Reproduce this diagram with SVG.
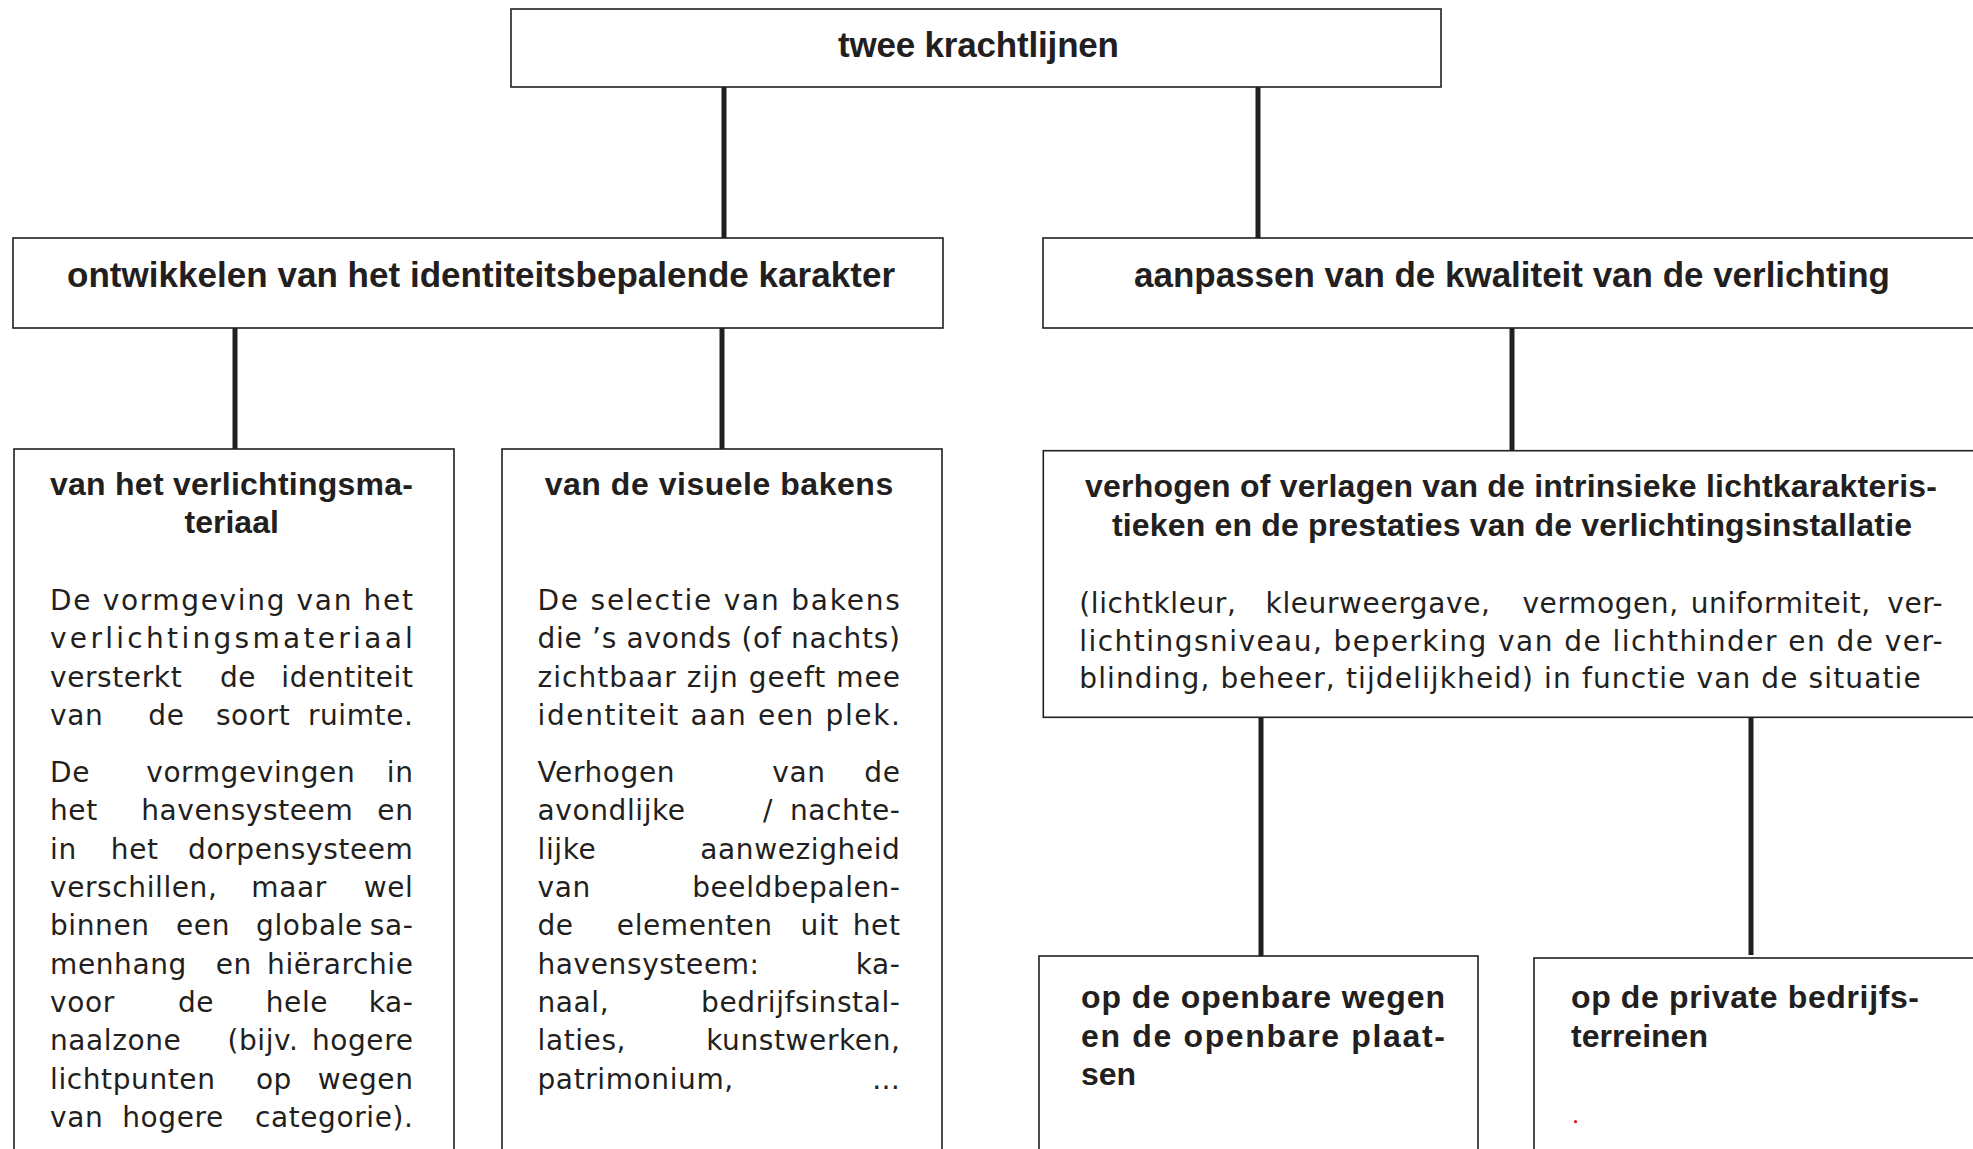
<svg xmlns="http://www.w3.org/2000/svg" width="1973" height="1149" viewBox="0 0 1973 1149">
<style>
.box{fill:#fff;stroke:#231f20;stroke-width:1.6}
.conn{stroke:#231f20;stroke-width:5;fill:none}
.h{font-family:"Liberation Sans",Arial,sans-serif;font-weight:bold;fill:#231f20}
.h1{font-size:35px}
.h2{font-size:32px}
.b{font-family:"DejaVu Sans","Liberation Sans",sans-serif;font-size:28px;letter-spacing:0.6px;fill:#231f20}
.m{text-anchor:middle}
.e{text-anchor:end}
</style>
<rect width="1973" height="1149" fill="#fff"/>
<g id="connectors">
<line class="conn" x1="724" y1="87" x2="724" y2="238"/>
<line class="conn" x1="1258" y1="87" x2="1258" y2="238"/>
<line class="conn" x1="235" y1="328" x2="235" y2="449"/>
<line class="conn" x1="722" y1="328" x2="722" y2="449"/>
<line class="conn" x1="1512" y1="328" x2="1512" y2="451"/>
<line class="conn" x1="1261" y1="717" x2="1261" y2="956"/>
<line class="conn" x1="1751" y1="717" x2="1751" y2="955"/>
</g>
<g id="root">
<rect class="box" x="511" y="9" width="930" height="78"/>
<text class="h h1" x="838" y="57" textLength="281" lengthAdjust="spacing">twee krachtlijnen</text>
</g>
<g id="identiteit">
<rect class="box" x="13" y="238" width="930" height="90"/>
<text class="h h1" x="67" y="287" textLength="828" lengthAdjust="spacing">ontwikkelen van het identiteitsbepalende karakter</text>
</g>
<g id="kwaliteit">
<rect class="box" x="1043" y="238" width="960" height="90"/>
<text class="h h1" x="1134" y="287" textLength="756" lengthAdjust="spacing">aanpassen van de kwaliteit van de verlichting</text>
</g>
<g id="materiaal">
<rect class="box" x="14" y="449" width="440" height="720"/>
<text class="h h2" x="50" y="495" textLength="363" lengthAdjust="spacing">van het verlichtingsma-</text>
<text class="h h2 m" x="231.7" y="533.3">teriaal</text>
<text class="b" x="50" y="610" textLength="363.5" lengthAdjust="spacing">De vormgeving van het</text>
<text class="b" x="50" y="648.3" textLength="363.5" lengthAdjust="spacing">verlichtingsmateriaal</text>
<text class="b" y="686.7"><tspan x="50">versterkt</tspan><tspan class="m" x="233.3"> de</tspan><tspan class="e" x="413.5"> identiteit</tspan></text>
<text class="b" y="725"><tspan x="50">van</tspan><tspan class="m" x="161.7"> de</tspan><tspan class="m" x="248.3"> soort</tspan><tspan class="e" x="413.5"> ruimte.</tspan></text>
<text class="b" y="782"><tspan x="50">De</tspan><tspan class="m" x="246"> vormgevingen</tspan><tspan class="e" x="413.5"> in</tspan></text>
<text class="b" y="820.3"><tspan x="50">het</tspan><tspan class="m" x="242.5"> havensysteem</tspan><tspan class="e" x="413.5"> en</tspan></text>
<text class="b" y="858.7"><tspan x="50">in</tspan><tspan class="m" x="130"> het</tspan><tspan class="e" x="413.5"> dorpensysteem</tspan></text>
<text class="b" y="897"><tspan x="50">verschillen,</tspan><tspan class="m" x="284.3"> maar</tspan><tspan class="e" x="413.5"> wel</tspan></text>
<text class="b" y="935.3"><tspan x="50">binnen</tspan><tspan class="m" x="198.3"> een</tspan><tspan class="m" x="304.7"> globale</tspan><tspan class="e" x="413.5"> sa-</tspan></text>
<text class="b" y="973.7"><tspan x="50">menhang</tspan><tspan class="m" x="229"> en</tspan><tspan class="e" x="413.5"> hiërarchie</tspan></text>
<text class="b" y="1012"><tspan x="50">voor</tspan><tspan class="m" x="191.3"> de</tspan><tspan class="m" x="292.2"> hele</tspan><tspan class="e" x="413.5"> ka-</tspan></text>
<text class="b" y="1050.3"><tspan x="50">naalzone</tspan><tspan class="m" x="258.3"> (bijv.</tspan><tspan class="e" x="413.5"> hogere</tspan></text>
<text class="b" y="1088.7"><tspan x="50">lichtpunten</tspan><tspan class="m" x="269.2"> op</tspan><tspan class="e" x="413.5"> wegen</tspan></text>
<text class="b" y="1127"><tspan x="50">van</tspan><tspan class="m" x="168.3"> hogere</tspan><tspan class="e" x="413.5"> categorie).</tspan></text>
</g>
<g id="bakens">
<rect class="box" x="502" y="449" width="440" height="720"/>
<text class="h h2" x="544.7" y="495" textLength="348.5" lengthAdjust="spacing">van de visuele bakens</text>
<text class="b" x="537.5" y="610" textLength="363" lengthAdjust="spacing">De selectie van bakens</text>
<text class="b" x="537.5" y="648.3" textLength="363" lengthAdjust="spacing">die ’s avonds (of nachts)</text>
<text class="b" x="537.5" y="686.7" textLength="363" lengthAdjust="spacing">zichtbaar zijn geeft mee</text>
<text class="b" x="537.5" y="725" textLength="363" lengthAdjust="spacing">identiteit aan een plek.</text>
<text class="b" y="782"><tspan x="537.5">Verhogen</tspan><tspan class="m" x="794.2"> van</tspan><tspan class="e" x="900.5"> de</tspan></text>
<text class="b" y="820.3"><tspan x="537.5">avondlijke</tspan><tspan class="m" x="763.3"> /</tspan><tspan class="e" x="900.5"> nachte-</tspan></text>
<text class="b" y="858.7"><tspan x="537.5">lijke</tspan><tspan class="e" x="900.5"> aanwezigheid</tspan></text>
<text class="b" y="897"><tspan x="537.5">van</tspan><tspan class="e" x="900.5"> beeldbepalen-</tspan></text>
<text class="b" y="935.3"><tspan x="537.5">de</tspan><tspan class="m" x="690"> elementen</tspan><tspan class="m" x="815"> uit</tspan><tspan class="e" x="900.5"> het</tspan></text>
<text class="b" y="973.7"><tspan x="537.5">havensysteem:</tspan><tspan class="e" x="900.5"> ka-</tspan></text>
<text class="b" y="1012"><tspan x="537.5">naal,</tspan><tspan class="e" x="900.5"> bedrijfsinstal-</tspan></text>
<text class="b" y="1050.3"><tspan x="537.5">laties,</tspan><tspan class="e" x="900.5"> kunstwerken,</tspan></text>
<text class="b" y="1088.7"><tspan x="537.5">patrimonium,</tspan><tspan class="e" x="900.5"> …</tspan></text>
</g>
<g id="prestaties">
<rect class="box" x="1043.3" y="450.7" width="960" height="266.6"/>
<text class="h h2" x="1085" y="496.7" textLength="852" lengthAdjust="spacing">verhogen of verlagen van de intrinsieke lichtkarakteris-</text>
<text class="h h2" x="1112" y="535.7" textLength="800" lengthAdjust="spacing">tieken en de prestaties van de verlichtingsinstallatie</text>
<text class="b" y="613.3"><tspan x="1079.3">(lichtkleur,</tspan><tspan class="m" x="1373.3"> kleurweergave,</tspan><tspan class="m" x="1595.8"> vermogen,</tspan><tspan class="m" x="1776"> uniformiteit,</tspan><tspan class="e" x="1943.3"> ver-</tspan></text>
<text class="b" x="1079.3" y="650.7" textLength="864" lengthAdjust="spacing">lichtingsniveau, beperking van de lichthinder en de ver-</text>
<text class="b" x="1079.3" y="688.3" textLength="842" lengthAdjust="spacing">blinding, beheer, tijdelijkheid) in functie van de situatie</text>
</g>
<g id="openbaar">
<rect class="box" x="1039" y="956" width="439" height="220"/>
<text class="h h2" x="1081" y="1008" textLength="364" lengthAdjust="spacing">op de openbare wegen</text>
<text class="h h2" x="1081" y="1046.5" textLength="364" lengthAdjust="spacing">en de openbare plaat-</text>
<text class="h h2" x="1081" y="1085">sen</text>
</g>
<g id="privaat">
<rect class="box" x="1534" y="958" width="460" height="220"/>
<text class="h h2" x="1571" y="1008" textLength="348" lengthAdjust="spacing">op de private bedrijfs-</text>
<text class="h h2" x="1571" y="1046.5">terreinen</text>
<circle cx="1575.5" cy="1121.7" r="1.6" fill="#e31e24"/>
</g>
</svg>
